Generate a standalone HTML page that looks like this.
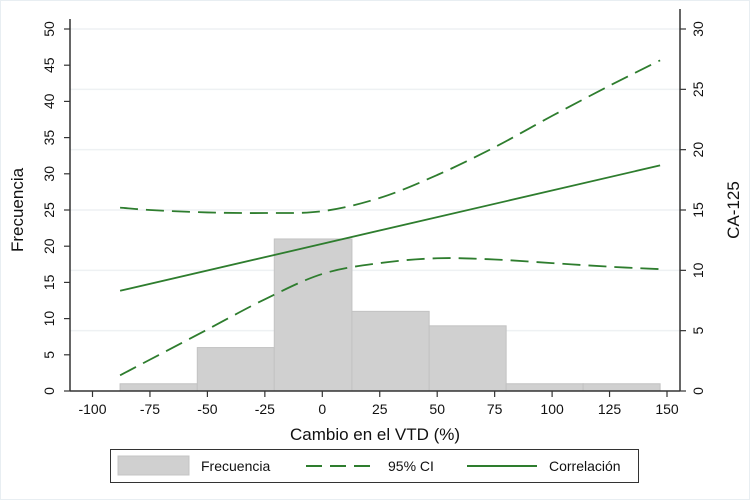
<!DOCTYPE html>
<html><head><meta charset="utf-8"><style>
body{margin:0;background:#fff;}
svg{display:block;font-family:"Liberation Sans",sans-serif;}
</style></head><body>
<svg id="chart" width="750" height="500" xmlns="http://www.w3.org/2000/svg">
<rect x="0.5" y="0.5" width="749" height="499" fill="#fff" stroke="#e8eef2"/>
<g id="grid"></g><g id="bars"></g><g id="lines"></g><g id="axes"></g>
<text x="375" y="440" text-anchor="middle" font-size="17" fill="#111">Cambio en el VTD (%)</text>
<text transform="translate(23,210) rotate(-90)" text-anchor="middle" font-size="17" fill="#111">Frecuencia</text>
<text transform="translate(739,210) rotate(-90)" text-anchor="middle" font-size="17" fill="#111">CA-125</text>
<g>
<rect x="110.5" y="449.5" width="528" height="33" fill="#fff" stroke="#333"/>
<rect x="118" y="456" width="71" height="19" fill="#d0d0d0" stroke="#c4c4c4"/>
<text x="201" y="471" font-size="14" fill="#111">Frecuencia</text>
<line x1="306" y1="466" x2="374" y2="466" stroke="#2e7d2e" stroke-width="2" stroke-dasharray="16,8"/>
<text x="388" y="471" font-size="14" fill="#111">95% CI</text>
<line x1="467" y1="466" x2="537" y2="466" stroke="#2e7d2e" stroke-width="2"/>
<text x="549" y="471" font-size="14" fill="#111">Correlación</text>
</g>
</svg>
<script>
const binEdges=[-88,-54.4,-20.9,12.9,46.5,80,113.5,147];
const binCounts=[1,6,21,11,9,1,1];
const ciX=[-88,-75,-50,-25,0,25,50,75,100,125,147];
const ciUpper=[15.2,15.0,14.8,14.75,14.9,16.0,17.9,20.2,22.8,25.3,27.4];
const ciLower=[1.3,2.6,5.1,7.6,9.7,10.6,11.0,10.9,10.6,10.3,10.1];
const corrX=[-88,147];
const corrY=[8.3,18.7];
const xTicks=[-100,-75,-50,-25,0,25,50,75,100,125,150];
const leftTicks=[0,5,10,15,20,25,30,35,40,45,50];
const rightTicks=[0,5,10,15,20,25,30];

const NS="http://www.w3.org/2000/svg";
const X0=92.5,X1=667,Y0=391,Y1=29,XL=70,XR=680;
const sx=v=>X0+(v+100)/250*(X1-X0);
const syL=v=>Y0-v/50*(Y0-Y1);
const syR=v=>Y0-v/30*(Y0-Y1);
function mk(tag,attrs,parent){const e=document.createElementNS(NS,tag);for(const k in attrs)e.setAttribute(k,attrs[k]);document.getElementById(parent).appendChild(e);return e;}

rightTicks.forEach(t=>{if(t===0)return;
 const g=mk('line',{x1:XL,x2:XR,y1:syR(t),y2:syR(t),stroke:'#eef1f3','stroke-width':1.5},'grid');
 
 });

binCounts.forEach((c,i)=>{
 const r=mk('rect',{x:sx(binEdges[i]),y:syL(c),width:sx(binEdges[i+1])-sx(binEdges[i]),height:Y0-syL(c),fill:'#d0d0d0',stroke:'#c2c2c2','stroke-width':1},'bars');
 
 });

function path(xs,ys){return xs.map((x,i)=>(i?'L':'M')+sx(x).toFixed(1)+' '+syR(ys[i]).toFixed(1)).join(' ');}
function smooth(xs,ys){const p=xs.map((x,i)=>[sx(x),syR(ys[i])]);let d='M'+p[0][0]+' '+p[0][1];
 for(let i=0;i<p.length-1;i++){const p0=p[i-1]||p[i],p1=p[i],p2=p[i+1],p3=p[i+2]||p2;
  d+=' C'+(p1[0]+(p2[0]-p0[0])/6)+' '+(p1[1]+(p2[1]-p0[1])/6)+' '+(p2[0]-(p3[0]-p1[0])/6)+' '+(p2[1]-(p3[1]-p1[1])/6)+' '+p2[0]+' '+p2[1];}
 return d;}
const u=mk('path',{d:smooth(ciX,ciUpper),fill:'none',stroke:'#2e7d2e','stroke-width':1.8,'stroke-dasharray':'18,8'},'lines');


const l=mk('path',{d:smooth(ciX,ciLower),fill:'none',stroke:'#2e7d2e','stroke-width':1.8,'stroke-dasharray':'18,8'},'lines');


const c=mk('path',{d:path(corrX,corrY),fill:'none',stroke:'#2e7d2e','stroke-width':1.8},'lines');



const ax=[['line',{x1:XL,x2:XL,y1:Y1-10,y2:Y0,stroke:'#333','stroke-width':1.5},'left-y-axis'],
 ['line',{x1:XR,x2:XR,y1:Y1-20,y2:Y0,stroke:'#333','stroke-width':1.5},'right-y-axis'],
 ['line',{x1:XL,x2:XR,y1:Y0,y2:Y0,stroke:'#333','stroke-width':1.5},'x-axis']];
ax.forEach(a=>{const e=mk(a[0],a[1],'axes');
 
 });

xTicks.forEach(t=>{const x=sx(t);
 mk('line',{x1:x,x2:x,y1:Y0,y2:Y0+6,stroke:'#333','stroke-width':1.2},'axes');
 const tx=mk('text',{x:x,y:414,'text-anchor':'middle','font-size':14,fill:'#111'},'axes');tx.textContent=t;
 
 });
leftTicks.forEach(t=>{const y=syL(t);
 mk('line',{x1:XL-6,x2:XL,y1:y,y2:y,stroke:'#333','stroke-width':1.2},'axes');
 const tx=mk('text',{transform:`translate(54,${y}) rotate(-90)`,'text-anchor':'middle','font-size':14,fill:'#111'},'axes');tx.textContent=t;
 
 });
rightTicks.forEach(t=>{const y=syR(t);
 mk('line',{x1:XR,x2:XR+6,y1:y,y2:y,stroke:'#333','stroke-width':1.2},'axes');
 const tx=mk('text',{transform:`translate(703,${y}) rotate(-90)`,'text-anchor':'middle','font-size':14,fill:'#111'},'axes');tx.textContent=t;
 
 });
</script>
</body></html>
